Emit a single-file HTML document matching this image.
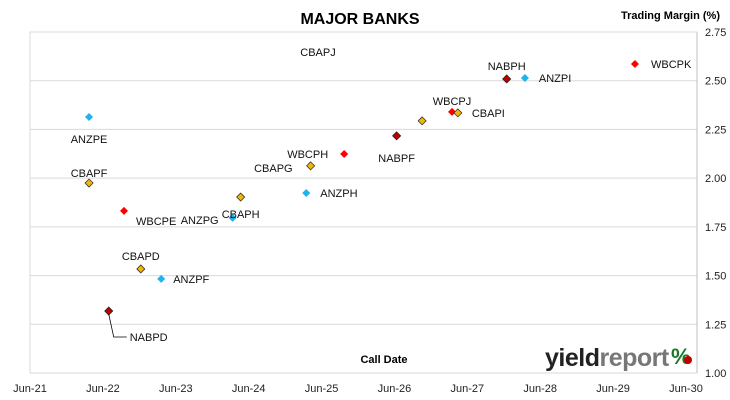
<!DOCTYPE html>
<html><head><meta charset="utf-8"><style>
body{margin:0;background:#fff;}
svg{display:block;font-family:"Liberation Sans",Calibri,sans-serif;}
</style></head><body>
<svg id="chart" width="730" height="400" viewBox="0 0 730 400">
<text x="360" y="24" font-size="16" font-weight="bold" text-anchor="middle">MAJOR BANKS</text>
<text x="720" y="19" font-size="11" font-weight="bold" text-anchor="end">Trading Margin  (%)</text>
<text x="384" y="363" font-size="11" font-weight="bold" text-anchor="middle">Call Date</text>
<g id="grid"></g><g id="axes"></g><g id="marks"></g>
<g>
<text x="545" y="366" font-size="25" font-weight="bold" fill="#222" letter-spacing="-0.5">yield<tspan fill="#777">report</tspan></text>
<text x="671" y="364" font-size="22" font-weight="bold" fill="#1a7a2a">%</text>
<circle cx="688" cy="360" r="4" fill="#c00000"/>
</g>
</svg>
<script>
const xTickLabels=["Jun-21","Jun-22","Jun-23","Jun-24","Jun-25","Jun-26","Jun-27","Jun-28","Jun-29","Jun-30"];
const yTicks=[1.00,1.25,1.50,1.75,2.00,2.25,2.50,2.75];
const names=["ANZPE","CBAPF","WBCPE","CBAPD","ANZPF","NABPD","ANZPG","CBAPH","ANZPH","CBAPG","WBCPH","NABPF","","WBCPJ","CBAPI","NABPH","ANZPI","WBCPK"];
const callDates=[2022.31,2022.31,2022.79,2023.02,2023.30,2022.58,2024.28,2024.39,2025.29,2025.35,2025.81,2026.53,2026.88,2027.29,2027.37,2028.04,2028.29,2029.80];
const margins=[2.314,1.975,1.832,1.534,1.483,1.318,1.796,1.903,1.924,2.063,2.124,2.217,2.294,2.340,2.335,2.509,2.514,2.586];
const banks=["ANZ","CBA","WBC","CBA","ANZ","NAB","ANZ","CBA","ANZ","CBA","WBC","NAB","CBA","WBC","CBA","NAB","ANZ","WBC"];
const lblOff=[[0,22],[0,-10],[26,10],[0,-13],[26,0],[32,26],[-30,2],[0,17],[28,0],[-34,2],[-32,0],[0,22],null,[0,-11],[28,0],[0,-13],[28,0],[30,0]];
const NS="http://www.w3.org/2000/svg";
const L=30,R=686,T=32,B=373;
const xS=v=>L+(v-2021.5)/9*(R-L);
const yS=v=>B-(v-1)/1.75*(B-T);
function mk(tag,at,parent){const e=document.createElementNS(NS,tag);for(const k in at)e.setAttribute(k,at[k]);parent.appendChild(e);return e;}
const grid=document.getElementById('grid'),axes=document.getElementById('axes'),marks=document.getElementById('marks');
mk('rect',{x:L,y:T,width:697-L,height:B-T,fill:'none',stroke:'#d9d9d9'},grid);
yTicks.forEach(t=>{
 const g=mk('line',{x1:L,x2:697,y1:yS(t),y2:yS(t),stroke:'#d9d9d9'},grid);
 
 
 const tx=mk('text',{x:705,y:yS(t)+4,'font-size':11,fill:'#222'},axes);
 tx.textContent=t.toFixed(2);
 
 
});
mk('line',{x1:697,x2:697,y1:T,y2:B,stroke:'#bfbfbf'},axes);
xTickLabels.forEach((s,i)=>{
 const tx=mk('text',{x:xS(2021.5+i),y:392,'font-size':11,'text-anchor':'middle',fill:'#222'},axes);
 tx.textContent=s;
 
 
});
const fills={ANZ:'#1fb3ef',CBA:'#f2b705',WBC:'#ff0000',NAB:'#c00000'};
const strokes={ANZ:'none',CBA:'#333',WBC:'none',NAB:'#222'};
names.forEach((n,i)=>{
 const x=xS(callDates[i]),y=yS(margins[i]);
 const d=mk('path',{d:`M${x} ${y-4}L${x+4} ${y}L${x} ${y+4}L${x-4} ${y}Z`,fill:fills[banks[i]],stroke:strokes[banks[i]],'stroke-width':0.8},marks);
 
 
 if(n&&lblOff[i]){
  const o=lblOff[i];
  if(n==="NABPD"){mk('path',{d:`M${x} ${y+3}L${x+5} ${y+26}L${x+18} ${y+26}`,fill:'none',stroke:'#000','stroke-width':0.8},marks);}
  const tx=mk('text',{x:x+o[0],y:y+o[1]+4,'font-size':11,'text-anchor':o[0]>0?'start':(o[0]<0?'end':'middle'),fill:'#111'},marks);
  if(o[0]>0)tx.setAttribute('x',x+o[0]-14);
  if(o[0]<0)tx.setAttribute('x',x+o[0]+16);
  if(n==="NABPD")tx.setAttribute('x',x+21);
  tx.textContent=n;
  
  
 }
});
const cj=mk('text',{x:318,y:56,'font-size':11,'text-anchor':'middle',fill:'#111'},marks);
cj.textContent="CBAPJ";


</script>
</body></html>
